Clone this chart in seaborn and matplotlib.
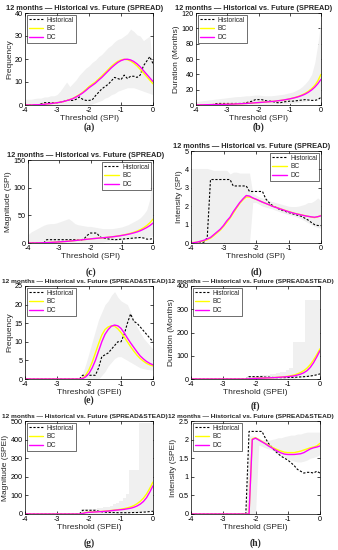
import numpy as np
import matplotlib
matplotlib.use("Agg")
import matplotlib.pyplot as plt
import seaborn as sns

# threshold axis shared by every panel
thresh = [-4.0, -3.9, -3.8, -3.7, -3.6, -3.5, -3.4, -3.3, -3.2, -3.1,
          -3.0, -2.9, -2.8, -2.7, -2.6, -2.5, -2.4, -2.3, -2.2, -2.1,
          -2.0, -1.9, -1.8, -1.7, -1.6, -1.5, -1.4, -1.3, -1.2, -1.1,
          -1.0, -0.9, -0.8, -0.7, -0.6, -0.5, -0.4, -0.3, -0.2, -0.1,
          0.0]

# (a) Frequency, SPI
freq_spi_hist = [0, 0, 0, 0, 0, 0.5, 1, 1, 1, 1,
                 1, 1.2, 1.5, 2, 2, 2, 2.5, 3.5, 2.5, 2,
                 2, 2.2, 4, 5.5, 7, 8, 9, 10.5, 12, 11.5,
                 11, 13, 11.5, 12.5, 12.5, 12, 13, 17, 19, 21,
                 18]
freq_spi_bc = [0, 0, 0, 0.1, 0.1, 0.2, 0.3, 0.5, 0.6, 0.8,
               1.0, 1.2, 1.5, 1.9, 2.4, 2.9, 3.7, 4.5, 5.5, 6.7,
               8.0, 9.0, 10.0, 11.3, 12.6, 14.0, 15.4, 16.8, 18.0, 19.0,
               19.6, 19.9, 19.7, 19.1, 18.2, 17.0, 15.5, 14.0, 12.4, 10.8,
               9.2]
freq_spi_dc = [0, 0, 0, 0.1, 0.1, 0.2, 0.3, 0.5, 0.6, 0.8,
               1.0, 1.2, 1.5, 1.9, 2.3, 2.8, 3.5, 4.3, 5.2, 6.3,
               7.5, 8.5, 9.5, 10.8, 12.0, 13.4, 14.8, 16.2, 17.4, 18.5,
               19.3, 19.8, 19.9, 19.6, 18.9, 17.9, 16.6, 15.0, 13.4, 11.8,
               10.2]
freq_spi_lo = [0, 0, 0, 0, 0, 0, 0, 0, 0, 0,
               0, 0, 0, 0, 0, 0, 0, 0, 0, 0,
               0, 0.5, 1, 1.5, 2, 3, 3.5, 4.5, 5, 6,
               6.5, 7, 7.5, 7.5, 7.5, 7, 6.5, 6, 5.5, 5,
               4.5]
freq_spi_hi = [2.5, 2.5, 2.5, 2.8, 3, 3, 3.5, 3.5, 4, 4,
               4.5, 6, 8, 10, 8, 9.5, 11, 13, 14.5, 16,
               17, 18.5, 19.5, 21, 22, 23.5, 25, 26, 27.5, 28.5,
               29, 30, 31, 33, 32, 30.5, 30, 28, 29, 30,
               15]

# (b) Duration, SPI
dur_spi_hist = [0, 0, 0, 0, 0, 0, 1.5, 2, 2, 2,
                2, 2, 2, 2, 2, 2, 3, 4, 5, 7,
                7, 7, 6, 5, 5, 4, 3, 3, 4, 4.5,
                5, 5, 5.5, 6, 6.5, 7, 6.5, 6, 6, 7,
                10]
dur_spi_bc = [0, 0.1, 0.2, 0.3, 0.4, 0.5, 0.6, 0.7, 0.8, 0.9,
              1.0, 1.1, 1.2, 1.4, 1.6, 1.8, 2.0, 2.3, 2.6, 2.9,
              3.2, 3.5, 3.8, 4.1, 4.5, 4.9, 5.4, 5.9, 6.5, 7.2,
              8.0, 9.1, 10.2, 11.6, 13.3, 15.4, 18.0, 21.3, 25.5, 31.5,
              40]
dur_spi_dc = [0, 0.1, 0.2, 0.3, 0.4, 0.5, 0.6, 0.7, 0.8, 0.9,
              1.0, 1.1, 1.2, 1.4, 1.6, 1.8, 2.0, 2.3, 2.6, 2.9,
              3.2, 3.5, 3.8, 4.1, 4.5, 4.9, 5.4, 5.9, 6.5, 7.2,
              8.0, 8.9, 9.9, 11.1, 12.6, 14.4, 16.7, 19.6, 23.2, 27.8,
              33.5]
dur_spi_lo = [0, 0, 0, 0, 0, 0, 0, 0, 0, 0,
              0, 0, 0, 0, 0, 0, 0, 0, 0, 0,
              0, 0.3, 0.5, 0.7, 0.8, 1, 1.2, 1.4, 1.6, 1.8,
              2, 2.5, 3, 3.5, 4, 5, 6, 7, 8, 9,
              10]
dur_spi_hi = [4, 5, 5.5, 6, 6.5, 7, 7.5, 8, 8.5, 9,
              9.5, 10, 10.5, 11, 11, 11.5, 12, 12, 12.5, 13,
              13, 12.5, 12, 12, 12, 12.5, 13, 13.5, 14, 15,
              16, 17, 19, 21, 24, 28, 33, 40, 55, 80,
              112]

# (c) Magnitude, SPI
mag_spi_hist = [0, 0, 0, 0, 0, 0, 6, 6, 6, 6,
                6, 6, 6, 6, 6, 6, 5.5, 5, 8, 14,
                18, 18, 18, 11, 9, 8, 7, 6.5, 6, 6.5,
                7, 7.5, 8, 8.5, 9, 9.5, 10, 9, 7, 7,
                8]
mag_spi_bc = [0, 0, 0.1, 0.2, 0.3, 0.5, 0.7, 1.0, 1.3, 1.6,
              2.0, 2.4, 2.8, 3.3, 3.8, 4.4, 5.0, 5.6, 6.2, 6.8,
              7.4, 8.0, 8.5, 9.0, 9.5, 10.0, 10.6, 11.3, 12.0, 12.9,
              13.8, 15.0, 16.3, 17.8, 19.6, 21.7, 24.3, 27.5, 31.5, 36.5,
              43]
mag_spi_dc = [0, 0, 0.1, 0.2, 0.3, 0.5, 0.7, 1.0, 1.3, 1.6,
              2.0, 2.4, 2.8, 3.3, 3.8, 4.4, 5.0, 5.6, 6.2, 6.8,
              7.4, 8.0, 8.5, 9.0, 9.5, 10.0, 10.6, 11.2, 11.9, 12.7,
              13.6, 14.6, 15.7, 17.0, 18.5, 20.2, 22.3, 25.0, 28.0, 31.5,
              36]
mag_spi_lo = [0, 0, 0, 0, 0, 0, 0, 0, 0, 0,
              0, 0, 0, 0, 0, 0, 0, 0, 0, 0,
              0, 0.5, 1, 1.5, 2, 3, 3.5, 4, 5, 5.5,
              6, 6.5, 7, 7.5, 8, 8.5, 9, 9.5, 10, 11,
              12]
mag_spi_hi = [15, 20, 23, 26, 29, 32, 34, 35, 35, 36,
              38, 40, 42, 44, 40, 35, 33, 32, 31, 30,
              30, 29, 28, 27, 26, 26, 26, 26, 27, 28,
              29, 31, 33, 36, 39, 42, 46, 52, 60, 80,
              140]

# (d) Intensity, SPI
int_spi_hist = [0, 0, 0, 0, 0.05, 0.3, 3.45, 3.45, 3.45, 3.45,
                3.45, 3.45, 3.45, 3.1, 3.1, 3.1, 3.1, 3.1, 2.8, 2.8,
                2.8, 2.8, 2.8, 2.4, 2.2, 2.05, 1.95, 1.85, 1.78, 1.72,
                1.66, 1.6, 1.55, 1.5, 1.45, 1.35, 1.25, 1.12, 1.0, 0.95,
                0.95]
int_spi_bc = [0.02, 0.03, 0.05, 0.08, 0.12, 0.18, 0.26, 0.4, 0.55, 0.7,
              0.9, 1.12, 1.35, 1.62, 1.9, 2.15, 2.35, 2.5, 2.5, 2.44,
              2.37, 2.3, 2.22, 2.15, 2.08, 2.01, 1.95, 1.89, 1.83, 1.77,
              1.71, 1.66, 1.61, 1.57, 1.53, 1.49, 1.45, 1.41, 1.38, 1.42,
              1.5]
int_spi_dc = [0, 0.02, 0.05, 0.1, 0.15, 0.22, 0.3, 0.45, 0.6, 0.75,
              0.95, 1.2, 1.4, 1.7, 1.95, 2.2, 2.4, 2.58, 2.55, 2.45,
              2.38, 2.3, 2.22, 2.15, 2.08, 2.0, 1.94, 1.88, 1.82, 1.76,
              1.7, 1.65, 1.6, 1.56, 1.52, 1.48, 1.45, 1.42, 1.4, 1.43,
              1.48]
int_spi_lo = [0, 0, 0, 0, 0, 0, 0, 0, 0, 0,
              0, 0, 0, 0, 0, 0, 0, 0, 0, 2.2,
              2.2, 2.1, 2.0, 1.95, 1.9, 1.85, 1.78, 1.72, 1.65, 1.6,
              1.55, 1.5, 1.45, 1.38, 1.3, 1.2, 1.1, 1.0, 0.9, 0.85,
              0.8]
int_spi_hi = [4.05, 4.05, 4.05, 4.05, 4.05, 4.05, 4.0, 3.95, 3.95, 3.95,
              3.95, 3.95, 3.75, 3.85, 3.85, 3.8, 3.8, 3.8, 3.8, 2.7,
              2.6, 2.5, 2.45, 2.4, 2.3, 2.25, 2.2, 2.15, 2.1, 2.05,
              2.0, 1.98, 1.98, 2.0, 2.05, 2.1, 2.2, 2.2, 2.3, 2.45,
              2.3]

# (e) Frequency, SPEI
freq_spei_hist = [0, 0, 0, 0, 0, 0, 0, 0, 0, 0,
                  0, 0, 0, 0, 0, 0, 0, 0, 1, 1,
                  1, 1, 1, 3, 6, 6.5, 7, 8, 9, 10,
                  10, 12, 15, 17.5, 15.5, 15, 14, 13, 12, 11,
                  10]
freq_spei_bc = [0, 0, 0, 0, 0, 0, 0, 0, 0, 0,
                0, 0, 0, 0, 0, 0, 0, 0, 0.2, 1.0,
                2.5, 4.5, 7.0, 9.5, 11.8, 13.3, 14.0, 14.3, 14.2, 13.5,
                12.5, 11.3, 10.0, 8.7, 7.5, 6.4, 5.5, 4.8, 4.2, 3.8,
                3.5]
freq_spei_dc = [0, 0, 0, 0, 0, 0, 0, 0, 0, 0,
                0, 0, 0, 0, 0, 0, 0, 0, 0.1, 0.6,
                1.5, 3.0, 5.0, 7.5, 10.0, 12.0, 13.3, 14.2, 14.5, 14.3,
                13.6, 12.4, 11.0, 9.7, 8.5, 7.3, 6.2, 5.4, 4.7, 4.2,
                3.8]
freq_spei_lo = [0, 0, 0, 0, 0, 0, 0, 0, 0, 0,
                0, 0, 0, 0, 0, 0, 0, 0, 0, 0,
                0, 0, 0, 0, 1, 2, 3.5, 4.5, 5.5, 6,
                6, 5.5, 5, 4.5, 4, 3.5, 3, 2.8, 2.6, 2.5,
                2.4]
freq_spei_hi = [0, 0, 0, 0, 0, 0, 0, 0, 0, 0,
                0, 0, 0, 0, 0, 0, 0, 0, 1.5, 4,
                7, 10, 13, 16, 18, 20, 21, 22.5, 23.5, 22,
                21, 20.5, 20, 18, 16, 14, 12.5, 11, 10, 9,
                8]

# (f) Duration, SPEI
dur_spei_hist = [0, 0, 0, 0, 0, 0, 0, 0, 0, 0,
                 0, 0, 0, 0, 0, 0, 0, 0, 10, 10,
                 10, 10, 10, 8, 8, 7, 6, 6, 6, 6,
                 6.5, 7, 7, 8, 9, 10, 11, 13, 15, 18,
                 22]
dur_spei_bc = [0, 0, 0, 0, 0, 0, 0, 0, 0, 0,
               0, 0, 0, 0, 0, 0, 0, 0, 1, 2,
               3, 3.5, 4, 4.5, 5, 5.5, 6.5, 7.5, 8.5, 10,
               11.5, 14, 17, 22, 28, 36, 47, 62, 82, 105,
               130]
dur_spei_dc = [0, 0, 0, 0, 0, 0, 0, 0, 0, 0,
               0, 0, 0, 0, 0, 0, 0, 0, 0.8, 1.8,
               2.8, 3.3, 3.8, 4.3, 4.8, 5.3, 6, 7, 8, 9,
               10, 11.5, 13.5, 17, 21, 27, 36, 50, 70, 95,
               122]
dur_spei_lo = [0, 0, 0, 0, 0, 0, 0, 0, 0, 0,
               0, 0, 0, 0, 0, 0, 0, 0, 0, 0,
               0, 0, 0, 0, 0, 0, 0, 0, 0, 0,
               0, 1, 2, 3, 4, 5, 7, 9, 12, 16,
               20]
dur_spei_hi = [0, 0, 0, 0, 0, 0, 0, 0, 0, 0,
               0, 0, 0, 0, 0, 0, 0, 0, 15, 15,
               15, 15, 16, 17, 18, 20, 22, 25, 28, 32,
               38, 48, 160, 160, 160, 160, 340, 340, 340, 340,
               340]

# (g) Magnitude, SPEI
mag_spei_hist = [0, 0, 0, 0, 0, 0, 0, 0, 0, 0,
                 0, 0, 0, 0, 0, 0, 0, 0, 20, 20,
                 20, 20, 20, 15, 12, 10, 9, 8, 8, 7,
                 7, 7, 7, 7, 8, 8, 9, 10, 11, 13,
                 15]
mag_spei_bc = [0, 0, 0, 0, 0, 0, 0, 0, 0, 0,
               0, 0, 0, 0, 0, 0, 0, 0, 3, 8,
               10, 11, 12, 13, 14, 15.5, 17, 19, 21, 23,
               26, 29, 33, 38, 45, 55, 68, 85, 108, 138,
               172]
mag_spei_dc = [0, 0, 0, 0, 0, 0, 0, 0, 0, 0,
               0, 0, 0, 0, 0, 0, 0, 0, 2.5, 7,
               9, 10, 11, 12, 13, 14.5, 16, 18, 20, 21.5,
               23, 25, 28, 31, 36, 43, 53, 67, 88, 118,
               152]
mag_spei_lo = [0, 0, 0, 0, 0, 0, 0, 0, 0, 0,
               0, 0, 0, 0, 0, 0, 0, 0, 0, 0,
               0, 0, 0, 0, 0, 0, 0, 0, 0, 0,
               0, 1, 2, 3, 4, 5, 7, 9, 12, 16,
               20]
mag_spei_hi = [0, 0, 0, 0, 0, 0, 0, 0, 0, 0,
               0, 0, 0, 0, 0, 0, 0, 0, 25, 28,
               28, 28, 28, 30, 32, 35, 40, 45, 52, 60,
               70, 85, 110, 235, 235, 235, 490, 490, 490, 490,
               490]

# (h) Intensity, SPEI
int_spei_hist = [0, 0, 0, 0, 0, 0, 0, 0, 0, 0,
                 0, 0, 0, 0, 0, 0, 0, 0, 2.22, 2.22,
                 2.22, 2.22, 2.22, 2.05, 1.9, 1.8, 1.7, 1.62, 1.55, 1.5,
                 1.45, 1.38, 1.3, 1.2, 1.15, 1.1, 1.12, 1.12, 1.1, 1.15,
                 1.1]
int_spei_bc = [0, 0, 0, 0, 0, 0, 0, 0, 0, 0,
               0, 0, 0, 0, 0, 0, 0, 0, 0, 2.02,
               2.05, 2.0, 1.95, 1.9, 1.85, 1.8, 1.76, 1.72, 1.69, 1.66,
               1.65, 1.65, 1.65, 1.67, 1.69, 1.72, 1.75, 1.78, 1.8, 1.83,
               1.9]
int_spei_dc = [0, 0, 0, 0, 0, 0, 0, 0, 0, 0,
               0, 0, 0, 0, 0, 0, 0, 0, 0, 2.0,
               2.04, 1.99, 1.94, 1.89, 1.83, 1.78, 1.73, 1.68, 1.64, 1.61,
               1.6, 1.6, 1.6, 1.61, 1.62, 1.65, 1.7, 1.75, 1.78, 1.8,
               1.83]
int_spei_lo = [0, 0, 0, 0, 0, 0, 0, 0, 0, 0,
               0, 0, 0, 0, 0, 0, 0, 0, 0, 0,
               0, 1.85, 1.82, 1.78, 1.75, 1.72, 1.68, 1.62, 1.57, 1.52,
               1.48, 1.45, 1.42, 1.4, 1.4, 1.42, 1.45, 1.5, 1.52, 1.55,
               1.6]
int_spei_hi = [0, 0, 0, 0, 0, 0, 0, 0, 0, 0,
               0, 0, 0, 0, 0, 0, 0, 0, 2.1, 2.1,
               2.08, 2.05, 2.0, 2.0, 1.98, 2.0, 2.02, 2.05, 2.05, 2.08,
               2.1, 2.12, 2.12, 2.15, 2.15, 2.18, 2.2, 2.2, 2.2, 2.2,
               2.2]

title_spi = "12 months \u2014 Historical vs. Future (SPREAD)"
title_spei = "12 months \u2014 Historical vs. Future (SPREAD&STEAD)"

sns.set_theme(style="ticks")
plt.rcParams["font.family"] = ["Liberation Sans", "DejaVu Sans"]
plt.rcParams["axes.unicode_minus"] = False

W, H = 338, 550
fig = plt.figure(figsize=(W / 100, H / 100), dpi=100)

# panel boxes in pixels: left, right, top, bottom
panels = [
    ((25, 153, 13, 105), title_spi, 5.35, "Frequency", "Threshold (SPI)", [0, 10, 20, 30, 40],
     (freq_spi_hist, freq_spi_bc, freq_spi_dc, freq_spi_lo, freq_spi_hi), "upper left", "(a)", 127, None),
    ((196, 321, 13, 105), title_spi, 5.35, "Duration (Months)", "Threshold (SPI)", [0, 20, 40, 60, 80, 100, 120],
     (dur_spi_hist, dur_spi_bc, dur_spi_dc, dur_spi_lo, dur_spi_hi), "upper left", "(b)", 127, None),
    ((28, 153, 160, 243), title_spi, 5.35, "Magnitude (SPI)", "Threshold (SPI)", [0, 50, 100, 150],
     (mag_spi_hist, mag_spi_bc, mag_spi_dc, mag_spi_lo, mag_spi_hi), "upper right", "(c)", 272, None),
    ((191, 321, 151, 243), title_spi, 5.35, "Intensity (SPI)", "Threshold (SPI)", [0, 1, 2, 3, 4, 5],
     (int_spi_hist, int_spi_bc, int_spi_dc, int_spi_lo, int_spi_hi), "upper right", "(d)", 272, None),
    ((25, 153, 286, 379), title_spei, 4.65, "Frequency", "Threshold (SPEI)", [0, 5, 10, 15, 20, 25],
     (freq_spei_hist, freq_spei_bc, freq_spei_dc, freq_spei_lo, freq_spei_hi), "upper left", "(e)", 400, None),
    ((191, 320, 286, 379), title_spei, 4.65, "Duration (Months)", "Threshold (SPEI)", [0, 100, 200, 300, 400],
     (dur_spei_hist, dur_spei_bc, dur_spei_dc, dur_spei_lo, dur_spei_hi), "upper left", "(f)", 406, "mid"),
    ((25, 153, 421, 514), title_spei, 4.65, "Magnitude (SPEI)", "Threshold (SPEI)", [0, 100, 200, 300, 400, 500],
     (mag_spei_hist, mag_spei_bc, mag_spei_dc, mag_spei_lo, mag_spei_hi), "upper left", "(g)", 543, "mid"),
    ((191, 320, 421, 514), title_spei, 4.65, "Intensity (SPEI)", "Threshold (SPEI)", [0, 0.5, 1, 1.5, 2, 2.5],
     (int_spei_hist, int_spei_bc, int_spei_dc, int_spei_lo, int_spei_hi), "upper left", "(h)", 543, None),
]

for box, title, tsize, ylab, xlab, yticks, series, loc, letter, letter_y, step in panels:
    l, r, t, b = box
    ax = fig.add_axes([l / W, 1 - b / H, (r - l) / W, (b - t) / H])
    hist, bc, dc, lo, hi = series

    ax.fill_between(thresh, lo, hi, color="#f0f0f0", lw=0, step=step)
    sns.lineplot(x=thresh, y=hist, ax=ax, color="black", lw=0.8,
                 linestyle=(0, (2, 1.5)), label="Historical")
    sns.lineplot(x=thresh, y=bc, ax=ax, color="#ffff00", lw=1.0, label="BC")
    sns.lineplot(x=thresh, y=dc, ax=ax, color="#ff00ff", lw=1.0, label="DC")

    ax.set_xlim(-4, 0)
    ax.set_ylim(yticks[0], yticks[-1])
    ax.set_xticks([-4, -3, -2, -1, 0])
    ax.set_yticks(yticks)
    ax.set_yticklabels([("%g" % v) for v in yticks])
    ax.tick_params(direction="in", length=2, width=0.5, labelsize=5.2, pad=1.5,
                   top=True, right=True, colors="black")
    for sp in ax.spines.values():
        sp.set_linewidth(0.5)
        sp.set_color("black")
    # titles sit a few pixels left of the axes centre in the original
    ax.set_title(title, fontsize=tsize, fontweight="bold", pad=2.5, x=0.5 - 4.5 / (r - l))
    ax.set_xlabel(xlab, fontsize=6, labelpad=1)
    ax.set_ylabel(ylab, fontsize=6, labelpad=1)

    leg = ax.legend(loc=loc, fontsize=4.8, frameon=True, fancybox=False,
                    handlelength=2.2, handletextpad=0.5, labelspacing=0.25,
                    borderpad=0.3, borderaxespad=0.25)
    leg.get_frame().set_edgecolor("black")
    leg.get_frame().set_linewidth(0.5)

    fig.text((l + r) / 2 / W, 1 - letter_y / H, letter, ha="center", va="center",
             fontsize=7, fontweight="bold", family=["Liberation Serif", "DejaVu Serif"])

fig.savefig("out.png", dpi=100)
